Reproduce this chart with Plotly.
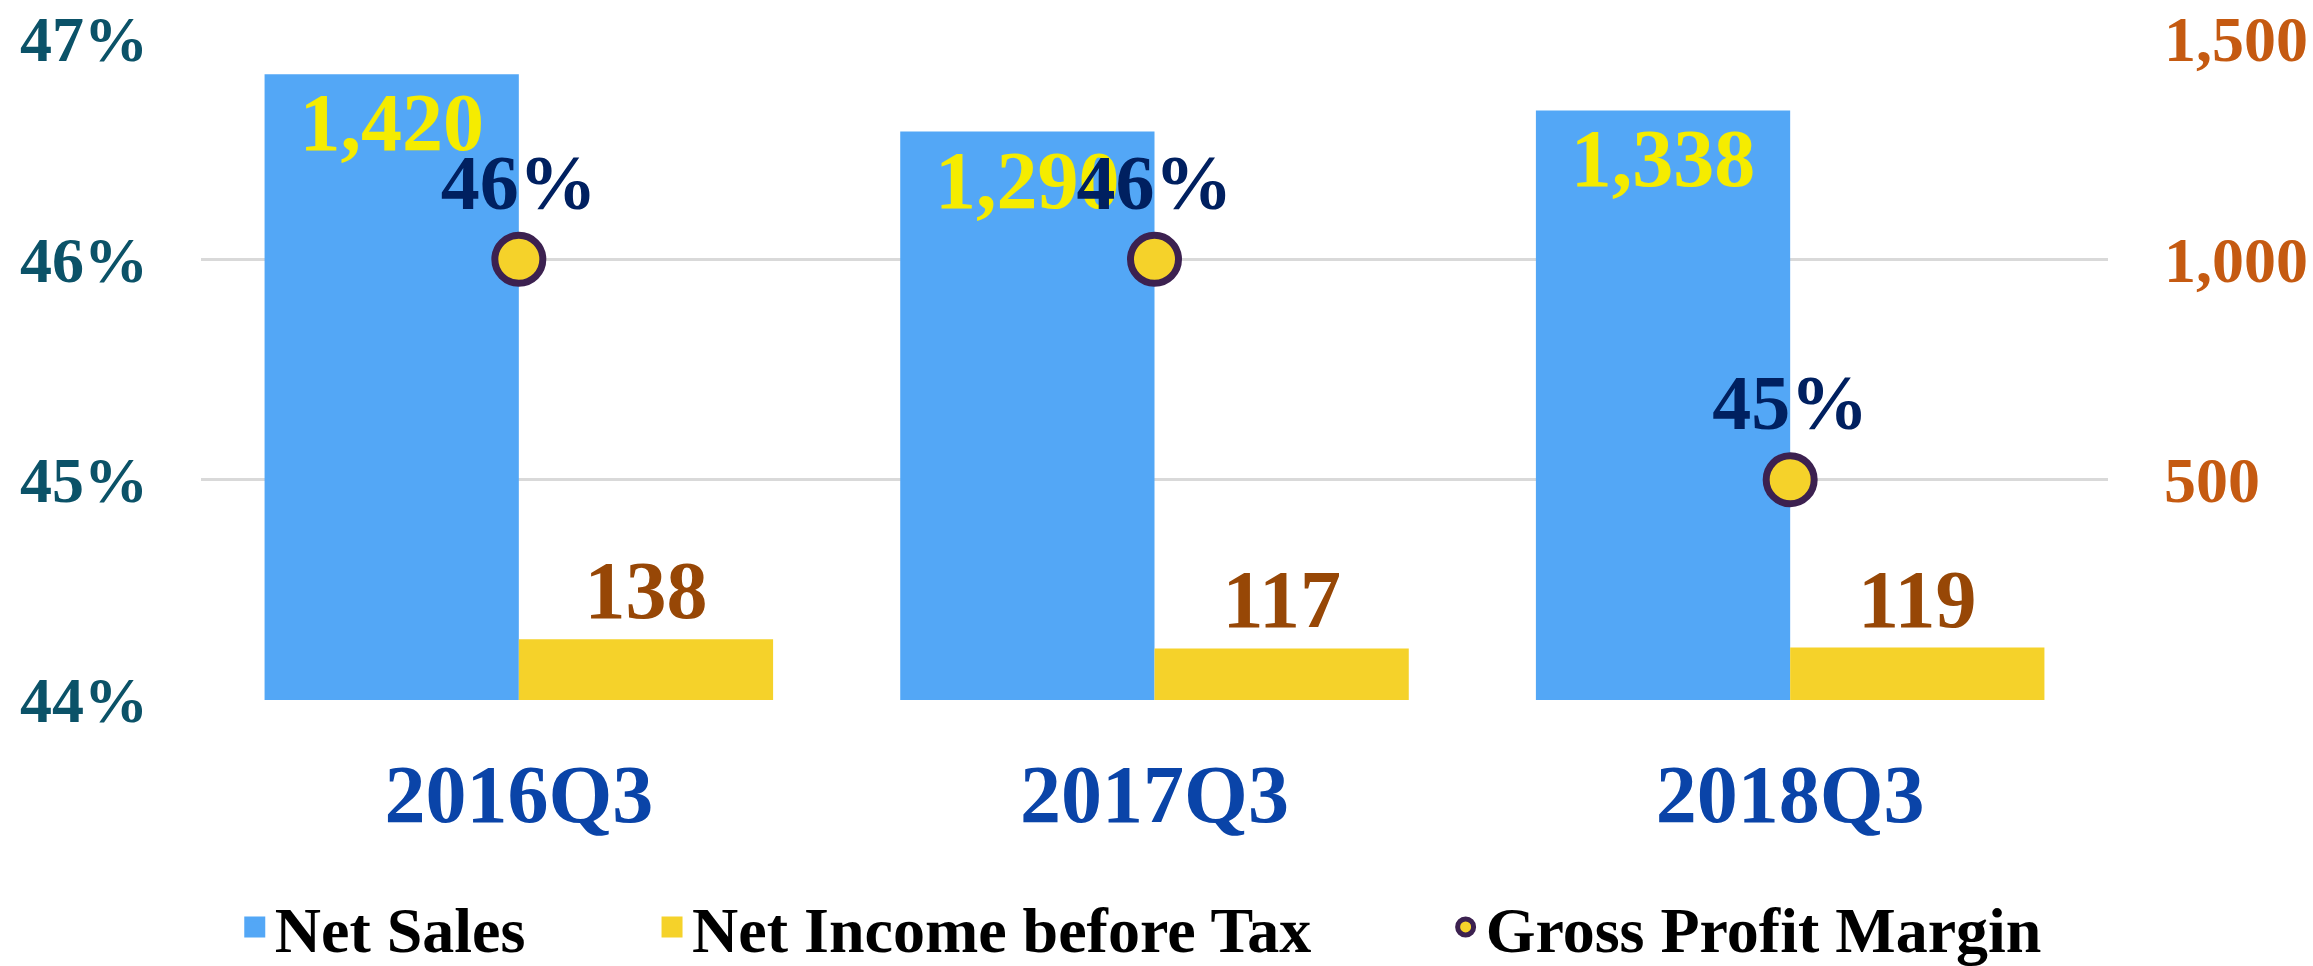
import plotly.graph_objects as go

# Quarterly figures
quarters = ["2016Q3", "2017Q3", "2018Q3"]
net_sales = [1420, 1290, 1338]
net_income_before_tax = [138, 117, 119]
gross_profit_margin = [0.46, 0.46, 0.45]

# Axis ticks
amount_ticks = [500, 1000, 1500]
margin_ticks = [0.44, 0.45, 0.46, 0.47]

SERIF = "Liberation Serif, Times New Roman, serif"
BLUE = "#53A7F6"
YELLOW = "#F5D22A"
MARKER_EDGE = "#3C2150"

fig = go.Figure()

fig.add_trace(go.Bar(
    x=quarters, y=net_sales, name="Net Sales",
    marker=dict(color=BLUE, line=dict(width=0)),
    texttemplate="%{y:,.0f}", textposition="inside", insidetextanchor="end",
    textangle=0, constraintext="none",
    textfont=dict(family=SERIF, size=82, color="#F5EC00", weight="bold"),
    showlegend=False, yaxis="y",
))
fig.add_trace(go.Bar(
    x=quarters, y=net_income_before_tax, name="Net Income before Tax",
    marker=dict(color=YELLOW, line=dict(width=0)),
    texttemplate="%{y:,.0f}", textposition="outside",
    textangle=0, constraintext="none", cliponaxis=False,
    textfont=dict(family=SERIF, size=82, color="#974706", weight="bold"),
    showlegend=False, yaxis="y",
))
fig.add_trace(go.Scatter(
    x=quarters, y=gross_profit_margin, name="Gross Profit Margin",
    mode="markers+text",
    marker=dict(size=48, color=YELLOW, line=dict(color=MARKER_EDGE, width=7)),
    texttemplate="%{y:.0%}", textposition="top center",
    textfont=dict(family=SERIF, size=78, color="#002060", weight="bold"),
    cliponaxis=False, yaxis="y2", legend="legend3",
))

# Legend swatches for the bar series
fig.add_trace(go.Scatter(
    x=[None], y=[None], mode="markers", name="Net Sales",
    marker=dict(symbol="square", size=16, color=BLUE, line=dict(color=BLUE, width=5)),
    yaxis="y", legend="legend",
))
fig.add_trace(go.Scatter(
    x=[None], y=[None], mode="markers", name="Net Income before Tax",
    marker=dict(symbol="square", size=16, color=YELLOW, line=dict(color=YELLOW, width=5)),
    yaxis="y", legend="legend2",
))

legend_font = dict(family=SERIF, size=64, color="#000000", weight="bold")
legend_common = dict(
    orientation="h", xref="container", yref="container",
    xanchor="left", yanchor="middle", y=0.04,
    font=legend_font, itemsizing="trace", bgcolor="rgba(0,0,0,0)",
)

fig.update_layout(
    width=2313, height=966,
    margin=dict(l=201, r=205, t=39, b=266, autoexpand=False),
    paper_bgcolor="white", plot_bgcolor="white",
    barmode="group", bargap=0.2, bargroupgap=0,
    font=dict(family=SERIF),
    xaxis=dict(
        type="category", showgrid=False, showline=False, zeroline=False, ticks="",
        tickfont=dict(family=SERIF, size=82, color="#0A44A8", weight="bold"),
        ticklabelstandoff=39, automargin=False,
    ),
    yaxis=dict(
        side="right", range=[0, 1500], tickvals=amount_ticks, tickformat=",",
        showgrid=True, gridcolor="#D9D9D9", gridwidth=2.5,
        zeroline=False, showline=False, ticks="",
        tickfont=dict(family=SERIF, size=64, color="#C55A11", weight="bold"),
        ticklabelstandoff=55, automargin=False,
    ),
    yaxis2=dict(
        side="left", overlaying="y", range=[0.44, 0.47], tickvals=margin_ticks,
        tickformat=".0%", showgrid=False, zeroline=False, showline=False, ticks="",
        tickfont=dict(family=SERIF, size=64, color="#0B5268", weight="bold"),
        ticklabelstandoff=52, automargin=False,
    ),
    legend=dict(x=0.1015, **legend_common),
    legend2=dict(x=0.2819, **legend_common),
    legend3=dict(x=0.625, **legend_common),
)

fig.write_html("out.html")
